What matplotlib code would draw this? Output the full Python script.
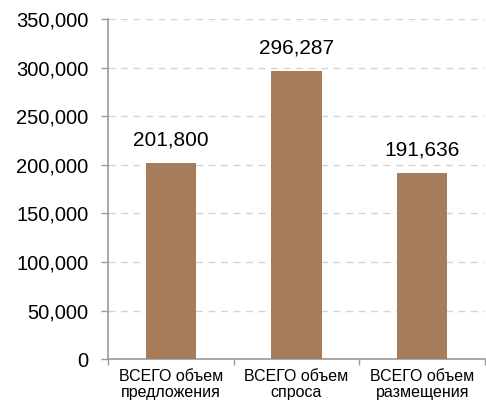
import matplotlib
matplotlib.use("Agg")
import matplotlib.pyplot as plt
from matplotlib.ticker import FuncFormatter, FixedLocator

categories = ["ВСЕГО объем\nпредложения", "ВСЕГО объем\nспроса", "ВСЕГО объем\nразмещения"]
values = [201800, 296287, 191636]
yticks = [0, 50000, 100000, 150000, 200000, 250000, 300000, 350000]

plt.rcParams["font.family"] = ["Liberation Sans", "DejaVu Sans"]

fig = plt.figure(figsize=(4.86, 4.04), dpi=100)
ax = fig.add_axes([0.222, 0.111, 0.776, 0.842])

x = range(len(categories))
bars = ax.bar(x, values, width=0.4, color="#A67C5A", zorder=3)

for b, v in zip(bars, values):
    ax.annotate(f"{v:,}", (b.get_x() + b.get_width() / 2, v), xytext=(0, 10),
                textcoords="offset points", ha="center", va="bottom", fontsize=15)

ax.set_xlim(-0.5, len(categories) - 0.5)
ax.set_ylim(0, 350000)
ax.set_yticks(yticks)
ax.yaxis.set_major_formatter(FuncFormatter(lambda v, _: f"{int(v):,}"))
ax.yaxis.grid(True, color="#d4d4d4", linestyle=(0, (5, 4)), linewidth=1, zorder=0)

ax.set_xticks(list(x))
ax.set_xticklabels(categories, fontsize=11.5, linespacing=1.1)
ax.xaxis.set_minor_locator(FixedLocator([i - 0.5 for i in range(len(categories) + 1)]))
ax.tick_params(axis="x", which="major", length=0, pad=7)
ax.tick_params(axis="x", which="minor", length=4, color="#9a9a9a", width=1)
ax.tick_params(axis="y", length=5, color="#9a9a9a", width=1, labelsize=14.5, pad=9)

for s in ["top", "right"]:
    ax.spines[s].set_visible(False)
for s in ["left", "bottom"]:
    ax.spines[s].set_color("#9a9a9a")
    ax.spines[s].set_linewidth(1.2)

fig.savefig("out.png", dpi=100)
